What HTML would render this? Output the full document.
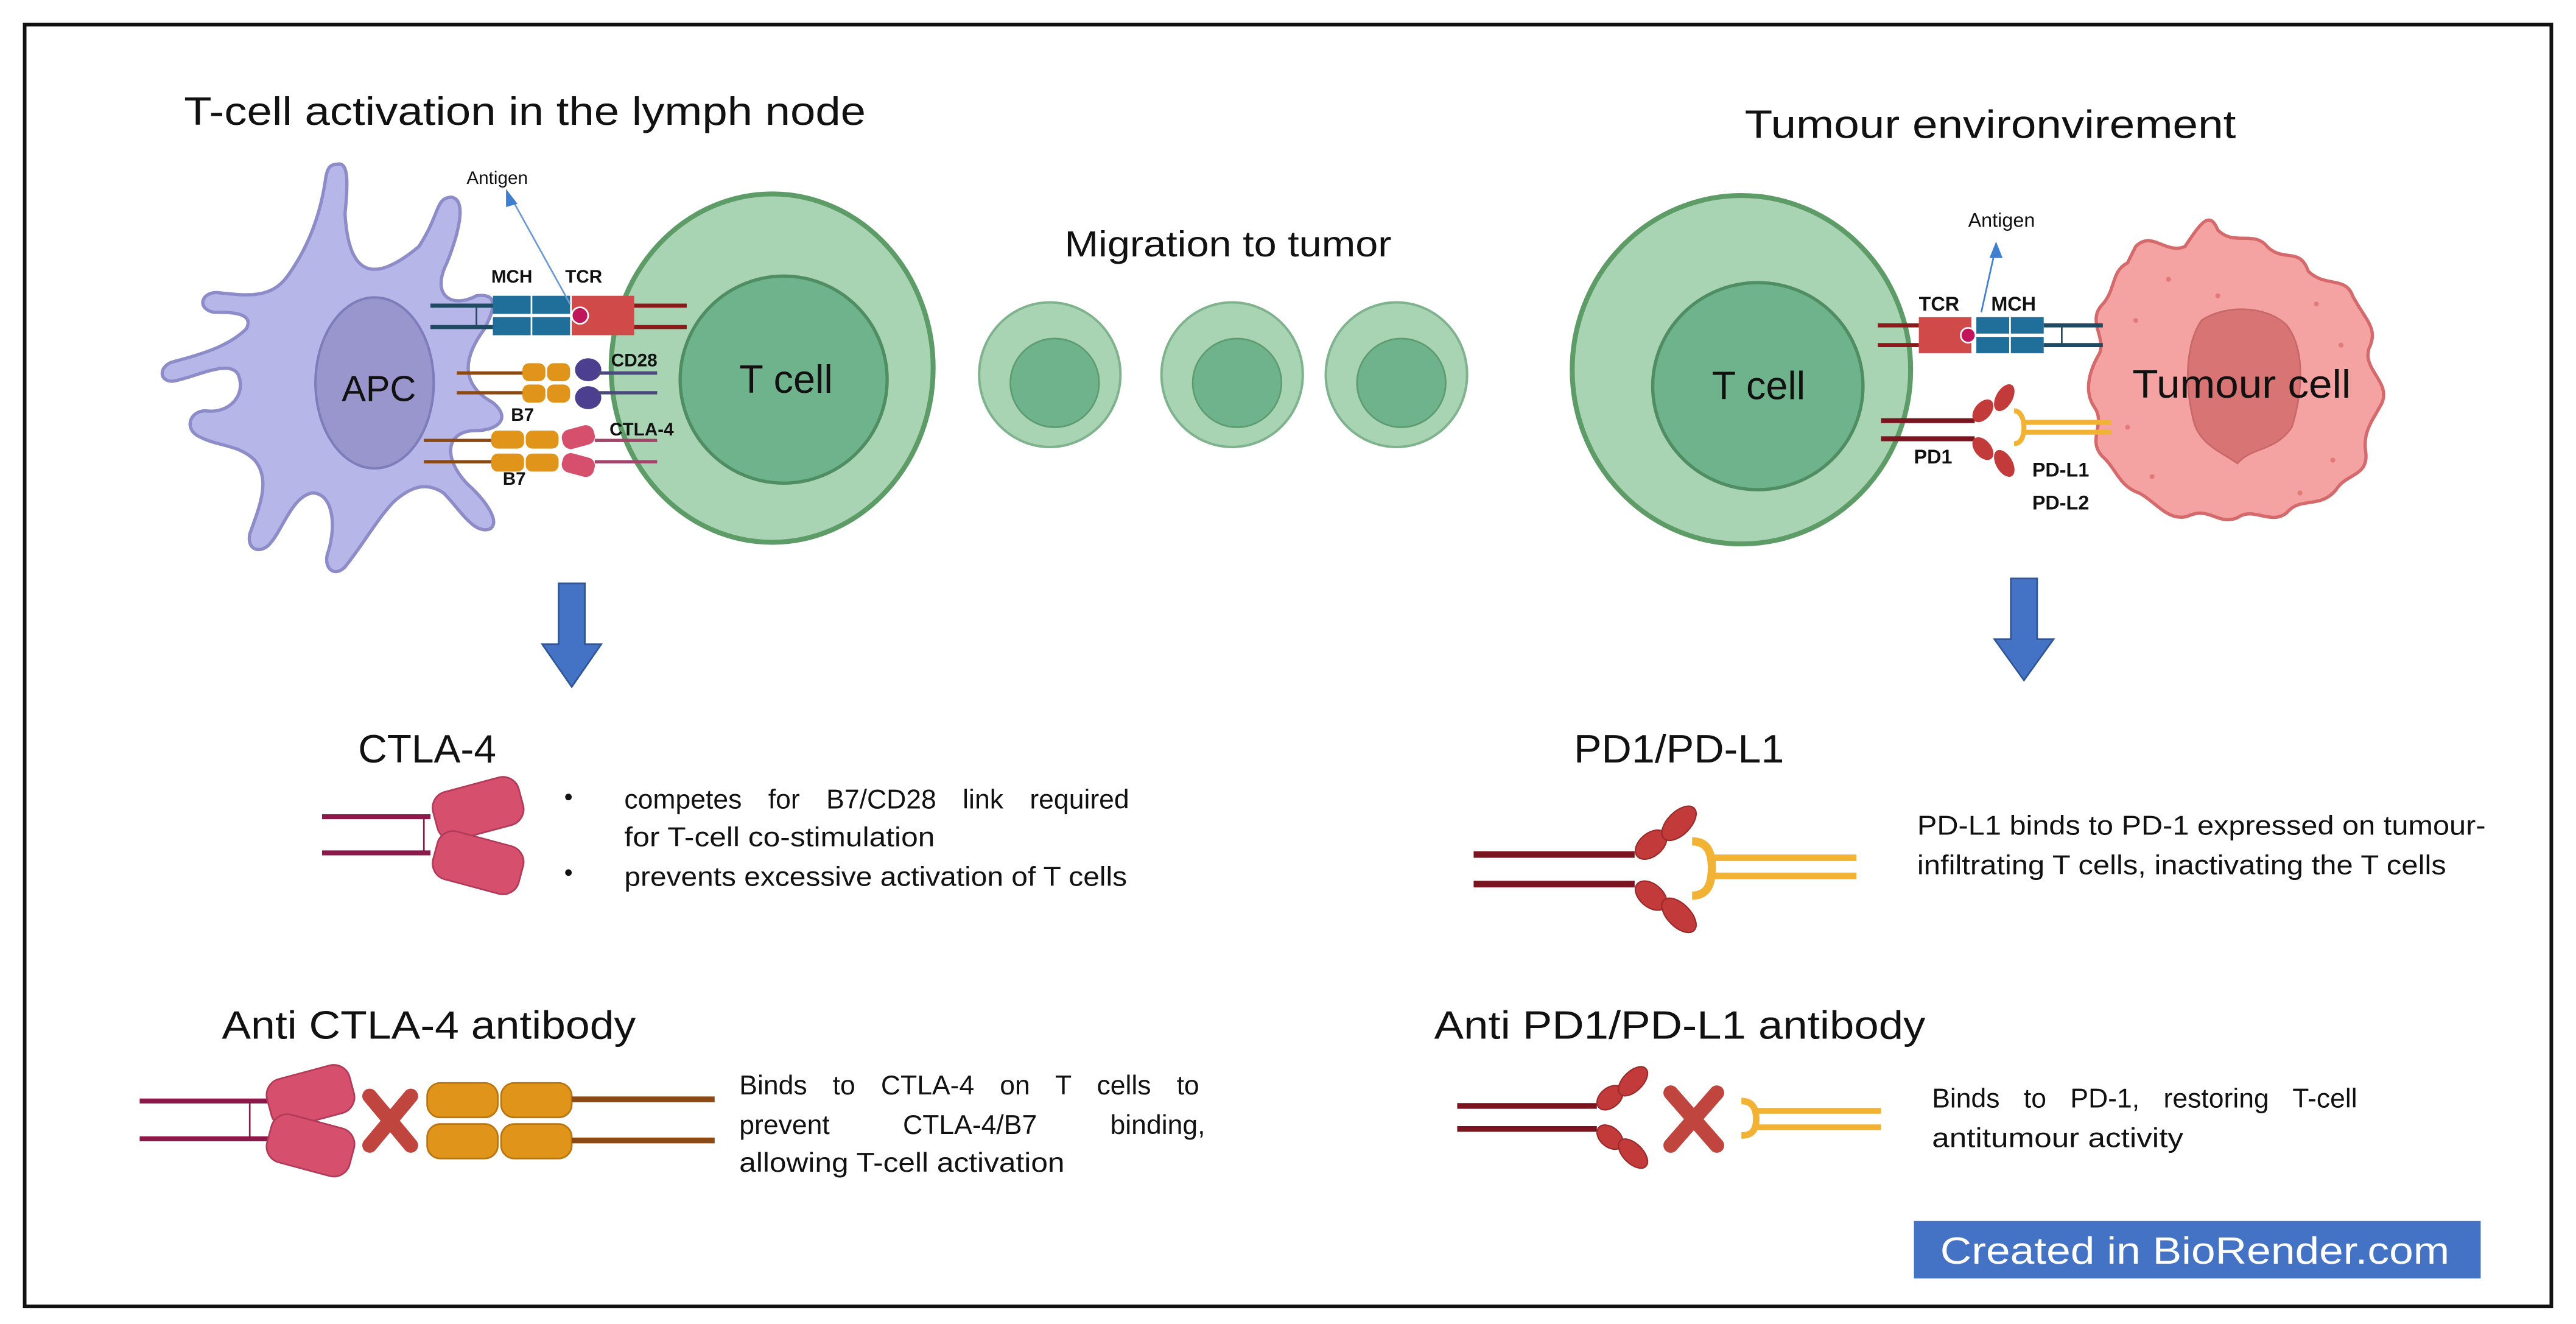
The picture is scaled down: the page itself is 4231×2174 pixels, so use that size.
<!DOCTYPE html>
<html><head><meta charset="utf-8"><style>
html,body{margin:0;padding:0;background:#fff;}
svg{display:block;}
text{font-family:"Liberation Sans",sans-serif;fill:#111;}
</style></head><body>
<svg width="4231" height="2174" viewBox="0 0 1568 805.7" xmlns="http://www.w3.org/2000/svg">
<rect x="0" y="0" width="1568" height="806" fill="#fff"/>
<rect x="15" y="15" width="1538" height="780" fill="none" stroke="#111" stroke-width="2.2"/>

<!-- titles -->
<text x="112" y="76" font-size="24" textLength="415" lengthAdjust="spacingAndGlyphs">T-cell activation in the lymph node</text>
<text x="1062" y="84" font-size="24" textLength="299" lengthAdjust="spacingAndGlyphs">Tumour environvirement</text>
<text x="648" y="156" font-size="22" textLength="199" lengthAdjust="spacingAndGlyphs">Migration to tumor</text>

<!-- APC -->
<path d="M205 100 C212 98 212 110 210 130 C212 165 225 175 255 150 C268 130 265 120 275 120 C285 122 278 145 272 160 C262 180 275 188 290 180 C305 178 300 190 295 200 C280 220 282 235 300 245 C312 255 302 262 290 262 C270 262 270 280 285 295 C296 305 305 318 298 322 C288 325 280 310 270 300 C258 292 248 298 240 305 C230 315 222 330 210 345 C203 352 196 345 200 335 C205 318 202 300 190 300 C178 302 172 322 165 330 C160 337 150 336 152 325 C158 308 165 292 155 280 C145 270 132 272 120 265 C112 260 116 250 125 250 C140 252 150 240 145 228 C140 218 118 230 105 232 C96 232 97 222 106 220 C125 215 140 210 150 200 C155 190 140 190 130 190 C120 188 122 178 132 178 C150 180 165 182 175 168 C188 150 195 130 198 110 C199 102 201 100 205 100 Z" fill="#b7b6e8" stroke="#8d8cc9" stroke-width="2"/>
<ellipse cx="228" cy="233" rx="36" ry="52" fill="#9896cc" stroke="#7e7cba" stroke-width="1.5"/>
<text x="208" y="244" font-size="22">APC</text>

<!-- left T cell -->
<ellipse cx="470" cy="224" rx="98" ry="106" fill="#a9d4b4" stroke="#5d9c67" stroke-width="3"/>
<ellipse cx="477" cy="231" rx="63" ry="63" fill="#6fb38c" stroke="#4f8e62" stroke-width="2"/>
<text x="450" y="239" font-size="24">T cell</text>

<!-- left receptors: MCH/TCR -->
<g>
<line x1="262" y1="186" x2="300" y2="186" stroke="#1e4a62" stroke-width="2.5"/>
<line x1="262" y1="199" x2="300" y2="199" stroke="#1e4a62" stroke-width="2.5"/>
<line x1="290" y1="186" x2="290" y2="199" stroke="#1e4a62" stroke-width="1"/>
<rect x="300" y="180" width="23" height="11" fill="#1f6f9a"/>
<rect x="324" y="180" width="23" height="11" fill="#1f6f9a"/>
<rect x="300" y="193" width="23" height="11" fill="#1f6f9a"/>
<rect x="324" y="193" width="23" height="11" fill="#1f6f9a"/>
<rect x="348" y="180" width="38" height="24" fill="#cf4a48"/>
<circle cx="353" cy="192" r="5" fill="#c0155a" stroke="#fff" stroke-width="1"/>
<line x1="386" y1="186" x2="418" y2="186" stroke="#8b1a1a" stroke-width="2.5"/>
<line x1="386" y1="199" x2="418" y2="199" stroke="#8b1a1a" stroke-width="2.5"/>
<line x1="347" y1="185" x2="311" y2="120" stroke="#6a9bd2" stroke-width="1"/>
<polygon points="308,115 315,124 308,126" fill="#3f7fd0"/>
<text x="284" y="112" font-size="11">Antigen</text>
<text x="299" y="172" font-size="11" font-weight="bold">MCH</text>
<text x="344" y="172" font-size="11" font-weight="bold">TCR</text>
</g>
<!-- B7/CD28 -->
<g>
<line x1="278" y1="227" x2="320" y2="227" stroke="#8b4a13" stroke-width="2"/>
<line x1="278" y1="239" x2="320" y2="239" stroke="#8b4a13" stroke-width="2"/>
<rect x="318" y="221" width="14" height="11" rx="4" fill="#e0951a"/>
<rect x="333" y="221" width="14" height="11" rx="4" fill="#e0951a"/>
<rect x="318" y="234" width="14" height="11" rx="4" fill="#e0951a"/>
<rect x="333" y="234" width="14" height="11" rx="4" fill="#e0951a"/>
<ellipse cx="358" cy="225" rx="8" ry="7" fill="#4c3f8f"/>
<ellipse cx="358" cy="242" rx="8" ry="7" fill="#4c3f8f"/>
<line x1="364" y1="227" x2="400" y2="227" stroke="#4a4a7a" stroke-width="2"/>
<line x1="364" y1="239" x2="400" y2="239" stroke="#4a4a7a" stroke-width="2"/>
<text x="372" y="223" font-size="11" font-weight="bold">CD28</text>
<text x="311" y="256" font-size="11" font-weight="bold">B7</text>
</g>
<!-- B7/CTLA-4 -->
<g>
<line x1="258" y1="268" x2="300" y2="268" stroke="#8b4a13" stroke-width="2"/>
<line x1="258" y1="281" x2="300" y2="281" stroke="#8b4a13" stroke-width="2"/>
<rect x="299" y="262" width="20" height="11" rx="4" fill="#e0951a"/>
<rect x="320" y="262" width="20" height="11" rx="4" fill="#e0951a"/>
<rect x="299" y="276" width="20" height="11" rx="4" fill="#e0951a"/>
<rect x="320" y="276" width="20" height="11" rx="4" fill="#e0951a"/>
<rect x="342" y="260" width="20" height="12" rx="5" fill="#d6506e" transform="rotate(-15 352 266)"/>
<rect x="342" y="277" width="20" height="12" rx="5" fill="#d6506e" transform="rotate(15 352 283)"/>
<line x1="362" y1="268" x2="400" y2="268" stroke="#a3456a" stroke-width="2"/>
<line x1="362" y1="281" x2="400" y2="281" stroke="#a3456a" stroke-width="2"/>
<text x="371" y="265" font-size="11" font-weight="bold">CTLA-4</text>
<text x="306" y="295" font-size="11" font-weight="bold">B7</text>
</g>

<!-- migrating cells -->
<g fill="#a9d4b4" stroke="#7fb38d" stroke-width="1.5">
<ellipse cx="639" cy="228" rx="43" ry="44"/>
<ellipse cx="750" cy="228" rx="43" ry="44"/>
<ellipse cx="850" cy="228" rx="43" ry="44"/>
</g>
<g fill="#6fb38c" stroke="#5d9c6f" stroke-width="1">
<circle cx="642" cy="233" r="27"/>
<circle cx="753" cy="233" r="27"/>
<circle cx="853" cy="233" r="27"/>
</g>

<!-- right T cell -->
<ellipse cx="1060" cy="225" rx="103" ry="106" fill="#a9d4b4" stroke="#5d9c67" stroke-width="3"/>
<ellipse cx="1070" cy="235" rx="64" ry="63" fill="#6fb38c" stroke="#4f8e62" stroke-width="2"/>
<text x="1042" y="243" font-size="24">T cell</text>

<!-- tumour cell -->
<path d="M1300 150 C1310 140 1318 155 1330 150 C1340 135 1345 128 1350 140 C1360 150 1372 140 1380 150 C1390 160 1400 150 1405 165 C1415 175 1428 168 1432 180 C1440 195 1448 200 1442 212 C1438 225 1455 232 1450 245 C1445 255 1438 262 1440 275 C1442 290 1428 288 1422 298 C1412 310 1400 302 1392 312 C1382 320 1372 308 1362 315 C1350 320 1345 308 1332 314 C1320 318 1312 305 1302 300 C1290 296 1288 285 1280 278 C1270 268 1282 258 1275 248 C1268 238 1272 225 1278 215 C1282 205 1270 195 1280 185 C1288 176 1285 165 1295 160 Z" fill="#f4a2a2" stroke="#d56a6c" stroke-width="2"/>
<path d="M1340 195 C1355 185 1380 186 1392 198 C1405 215 1400 245 1395 260 C1385 275 1370 272 1362 282 C1352 275 1338 270 1335 255 C1330 235 1330 210 1340 195 Z" fill="#d87474" stroke="#c86868" stroke-width="1"/>
<g fill="#e27a7a">
<circle cx="1300" cy="195" r="1.5"/><circle cx="1320" cy="170" r="1.5"/><circle cx="1410" cy="185" r="1.5"/><circle cx="1425" cy="210" r="1.5"/><circle cx="1295" cy="260" r="1.5"/><circle cx="1310" cy="290" r="1.5"/><circle cx="1420" cy="280" r="1.5"/><circle cx="1400" cy="300" r="1.5"/><circle cx="1350" cy="180" r="1.5"/>
</g>
<text x="1298" y="242" font-size="24" textLength="133" lengthAdjust="spacingAndGlyphs">Tumour cell</text>

<!-- right TCR/MCH -->
<g>
<line x1="1143" y1="198" x2="1168" y2="198" stroke="#8b1a1a" stroke-width="2.5"/>
<line x1="1143" y1="210" x2="1168" y2="210" stroke="#8b1a1a" stroke-width="2.5"/>
<rect x="1168" y="193" width="32" height="22" fill="#cf4a48"/>
<circle cx="1198" cy="204" r="4.5" fill="#c0155a" stroke="#fff" stroke-width="1"/>
<rect x="1203" y="193" width="20" height="10" fill="#1f6f9a"/>
<rect x="1224" y="193" width="20" height="10" fill="#1f6f9a"/>
<rect x="1203" y="205" width="20" height="10" fill="#1f6f9a"/>
<rect x="1224" y="205" width="20" height="10" fill="#1f6f9a"/>
<line x1="1244" y1="198" x2="1280" y2="198" stroke="#1e4a62" stroke-width="2.5"/>
<line x1="1244" y1="210" x2="1280" y2="210" stroke="#1e4a62" stroke-width="2.5"/>
<line x1="1255" y1="198" x2="1255" y2="210" stroke="#1e4a62" stroke-width="1"/>
<line x1="1206" y1="190" x2="1214" y2="154" stroke="#3f7fd0" stroke-width="1"/>
<polygon points="1215,147 1219,157 1211,157" fill="#3f7fd0"/>
<text x="1198" y="138" font-size="12">Antigen</text>
<text x="1168" y="189" font-size="12" font-weight="bold">TCR</text>
<text x="1212" y="189" font-size="12" font-weight="bold">MCH</text>
</g>
<!-- PD1 / PD-L1 -->
<g>
<line x1="1145" y1="256" x2="1202" y2="256" stroke="#7a1520" stroke-width="3"/>
<line x1="1145" y1="267" x2="1202" y2="267" stroke="#7a1520" stroke-width="3"/>
<ellipse cx="1207" cy="250" rx="8" ry="5" fill="#c23a3a" transform="rotate(-50 1207 250)"/>
<ellipse cx="1220" cy="242" rx="9" ry="5" fill="#c23a3a" transform="rotate(-60 1220 242)"/>
<ellipse cx="1207" cy="273" rx="8" ry="5" fill="#c23a3a" transform="rotate(50 1207 273)"/>
<ellipse cx="1220" cy="282" rx="9" ry="5" fill="#c23a3a" transform="rotate(60 1220 282)"/>
<path d="M1226 250 C1230 250 1232 255 1232 260 C1232 266 1230 270 1226 270" fill="none" stroke="#f2b233" stroke-width="3"/>
<line x1="1232" y1="257" x2="1285" y2="257" stroke="#f2b233" stroke-width="3"/>
<line x1="1232" y1="263" x2="1285" y2="263" stroke="#f2b233" stroke-width="3"/>
<text x="1165" y="282" font-size="12" font-weight="bold">PD1</text>
<text x="1237" y="290" font-size="12" font-weight="bold">PD-L1</text>
<text x="1237" y="310" font-size="12" font-weight="bold">PD-L2</text>
</g>

<!-- blue arrows -->
<polygon points="340,355 356,355 356,392 366,392 348,418 330,392 340,392" fill="#4472c4" stroke="#2f5597" stroke-width="1"/>
<polygon points="1224,352 1240,352 1240,389 1250,389 1232,414 1214,389 1224,389" fill="#4472c4" stroke="#2f5597" stroke-width="1"/>

<!-- CTLA-4 section -->
<text x="218" y="464" font-size="24" textLength="84" lengthAdjust="spacingAndGlyphs">CTLA-4</text>
<line x1="196" y1="497" x2="262" y2="497" stroke="#8b1a4a" stroke-width="3"/>
<line x1="196" y1="519" x2="262" y2="519" stroke="#8b1a4a" stroke-width="3"/>
<line x1="258" y1="497" x2="258" y2="519" stroke="#8b1a4a" stroke-width="1"/>
<rect x="264" y="477" width="54" height="30" rx="10" fill="#d6506e" stroke="#b03a58" transform="rotate(-15 291 492)"/>
<rect x="264" y="510" width="54" height="30" rx="10" fill="#d6506e" stroke="#b03a58" transform="rotate(15 291 525)"/>
<circle cx="346" cy="485" r="2" fill="#111"/>
<circle cx="346" cy="531" r="2" fill="#111"/>
<text x="380" y="492" font-size="16.5" word-spacing="11.5">competes for B7/CD28 link required</text>
<text x="380" y="515" font-size="16.5" textLength="189" lengthAdjust="spacingAndGlyphs">for T-cell co-stimulation</text>
<text x="380" y="539" font-size="16.5" textLength="306" lengthAdjust="spacingAndGlyphs">prevents excessive activation of T cells</text>

<!-- Anti CTLA-4 -->
<text x="135" y="632" font-size="24" textLength="252" lengthAdjust="spacingAndGlyphs">Anti CTLA-4 antibody</text>
<line x1="85" y1="670" x2="165" y2="670" stroke="#8b1a4a" stroke-width="3"/>
<line x1="85" y1="693" x2="165" y2="693" stroke="#8b1a4a" stroke-width="3"/>
<line x1="152" y1="670" x2="152" y2="693" stroke="#8b1a4a" stroke-width="1"/>
<rect x="163" y="652" width="52" height="30" rx="10" fill="#d6506e" stroke="#b03a58" transform="rotate(-15 189 667)"/>
<rect x="163" y="682" width="52" height="30" rx="10" fill="#d6506e" stroke="#b03a58" transform="rotate(15 189 697)"/>
<g stroke="#c0453f" stroke-width="9" stroke-linecap="round">
<line x1="225" y1="667" x2="250" y2="697"/><line x1="250" y1="667" x2="225" y2="697"/>
</g>
<g fill="#e0951a" stroke="#b87510" stroke-width="1">
<rect x="260" y="659" width="43" height="21" rx="8"/><rect x="305" y="659" width="43" height="21" rx="8"/>
<rect x="260" y="684" width="43" height="21" rx="8"/><rect x="305" y="684" width="43" height="21" rx="8"/>
</g>
<line x1="348" y1="669" x2="435" y2="669" stroke="#8b4a13" stroke-width="3.5"/>
<line x1="348" y1="694" x2="435" y2="694" stroke="#8b4a13" stroke-width="3.5"/>
<text x="450" y="666" font-size="16.5" word-spacing="11">Binds to CTLA-4 on T cells to</text>
<text x="450" y="690" font-size="16.5" word-spacing="40">prevent CTLA-4/B7 binding,</text>
<text x="450" y="713" font-size="16.5" textLength="198" lengthAdjust="spacingAndGlyphs">allowing T-cell activation</text>

<!-- PD1/PD-L1 section -->
<text x="958" y="464" font-size="24" textLength="128" lengthAdjust="spacingAndGlyphs">PD1/PD-L1</text>
<line x1="897" y1="520" x2="995" y2="520" stroke="#7a1520" stroke-width="4"/>
<line x1="897" y1="538" x2="995" y2="538" stroke="#7a1520" stroke-width="4"/>
<g fill="#c23a3a" stroke="#9a2a2a" stroke-width="0.8">
<ellipse cx="1005" cy="514" rx="11" ry="7" transform="rotate(-40 1005 514)"/>
<ellipse cx="1022" cy="501" rx="13" ry="7" transform="rotate(-45 1022 501)"/>
<ellipse cx="1005" cy="545" rx="11" ry="7" transform="rotate(40 1005 545)"/>
<ellipse cx="1022" cy="557" rx="13" ry="7" transform="rotate(45 1022 557)"/>
</g>
<path d="M1030 512 C1040 512 1042 520 1042 528 C1042 537 1040 545 1030 545" fill="none" stroke="#f2b233" stroke-width="5"/>
<line x1="1040" y1="522" x2="1130" y2="522" stroke="#f2b233" stroke-width="4"/>
<line x1="1040" y1="533" x2="1130" y2="533" stroke="#f2b233" stroke-width="4"/>
<text x="1167" y="508" font-size="16.5" textLength="346" lengthAdjust="spacingAndGlyphs">PD-L1 binds to PD-1 expressed on tumour-</text>
<text x="1167" y="532" font-size="16.5" textLength="322" lengthAdjust="spacingAndGlyphs">infiltrating T cells, inactivating the T cells</text>

<!-- Anti PD1 -->
<text x="873" y="632" font-size="24" textLength="299" lengthAdjust="spacingAndGlyphs">Anti PD1/PD-L1 antibody</text>
<line x1="887" y1="673" x2="972" y2="673" stroke="#7a1520" stroke-width="3.5"/>
<line x1="887" y1="687" x2="972" y2="687" stroke="#7a1520" stroke-width="3.5"/>
<g fill="#c23a3a" stroke="#9a2a2a" stroke-width="0.8">
<ellipse cx="980" cy="668" rx="9" ry="6" transform="rotate(-40 980 668)"/>
<ellipse cx="994" cy="658" rx="11" ry="6" transform="rotate(-45 994 658)"/>
<ellipse cx="980" cy="692" rx="9" ry="6" transform="rotate(40 980 692)"/>
<ellipse cx="994" cy="702" rx="11" ry="6" transform="rotate(45 994 702)"/>
</g>
<g stroke="#c0453f" stroke-width="9" stroke-linecap="round">
<line x1="1017" y1="665" x2="1045" y2="697"/><line x1="1045" y1="665" x2="1017" y2="697"/>
</g>
<path d="M1060 670 C1067 670 1069 675 1069 681 C1069 687 1067 691 1060 691" fill="none" stroke="#f2b233" stroke-width="4"/>
<line x1="1068" y1="676" x2="1145" y2="676" stroke="#f2b233" stroke-width="3.5"/>
<line x1="1068" y1="686" x2="1145" y2="686" stroke="#f2b233" stroke-width="3.5"/>
<text x="1176" y="674" font-size="16.5" word-spacing="10">Binds to PD-1, restoring T-cell</text>
<text x="1176" y="698" font-size="16.5" textLength="153" lengthAdjust="spacingAndGlyphs">antitumour activity</text>

<!-- BioRender -->
<rect x="1165" y="743" width="345" height="35" fill="#4472c4"/>
<text x="1181" y="769" font-size="23" textLength="310" lengthAdjust="spacingAndGlyphs" style="fill:#fff">Created in BioRender.com</text>
</svg>
</body></html>
